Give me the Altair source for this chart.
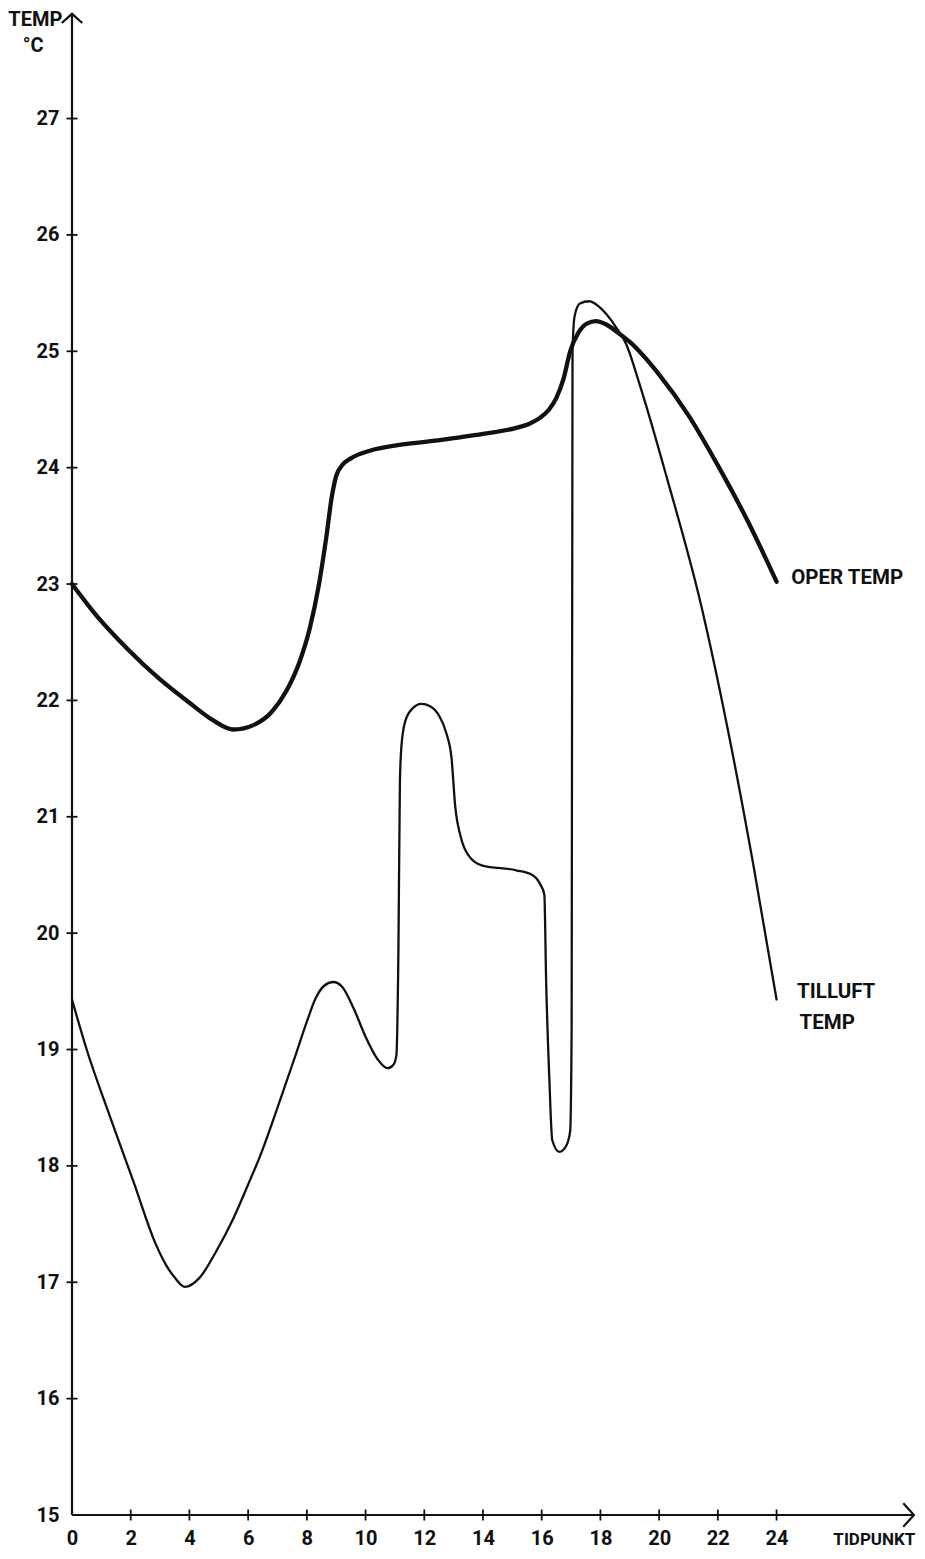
import altair as alt
import pandas as pd

# ---- data ----
oper_t = [0, 0.7, 1.9, 3.0, 4.0, 4.8, 5.5, 6.2, 6.8, 7.3, 7.75, 8.1, 8.4, 8.65,
          8.85, 9.0, 9.2, 9.5, 10.2, 11.0, 12.3, 14.0, 15.1, 15.6, 15.95, 16.25,
          16.5, 16.75, 16.97, 17.25, 17.55, 17.85, 18.2, 18.6, 19.0, 20.0, 21.0,
          22.0, 23.0, 24.0]
oper_v = [23.0, 22.77, 22.44, 22.18, 21.98, 21.83, 21.75, 21.79, 21.9, 22.08, 22.33,
          22.62, 22.98, 23.38, 23.75, 23.93, 24.02, 24.08, 24.15, 24.19, 24.23, 24.29,
          24.34, 24.38, 24.43, 24.5, 24.6, 24.77, 25.0, 25.16, 25.24, 25.26, 25.23,
          25.16, 25.08, 24.8, 24.45, 24.02, 23.55, 23.02]

till_t = [0, 0.5, 1.3, 2.1, 2.85, 3.2, 3.5, 3.84, 4.35, 4.9, 5.48, 6.0, 6.4, 7.0,
          7.6, 8.0, 8.3, 8.6, 8.9, 9.2, 9.6, 10.0, 10.4, 10.75, 10.95, 11.05, 11.12,
          11.17, 11.22, 11.35, 11.6, 11.9, 12.2, 12.5, 12.75, 12.93, 13.05, 13.25,
          13.5, 13.98, 15.13, 15.68, 15.95, 16.09, 16.15, 16.26, 16.36, 16.6, 16.85,
          16.97, 17.02, 17.05, 17.12, 17.3, 17.62, 17.97, 18.2, 18.55, 18.88, 19.33,
          20.3, 21.4, 22.3, 23.2, 24.0]
till_v = [19.43, 19.0, 18.42, 17.86, 17.33, 17.15, 17.04, 16.96, 17.04, 17.26, 17.54,
          17.84, 18.08, 18.5, 18.94, 19.24, 19.44, 19.55, 19.58, 19.54, 19.35, 19.11,
          18.92, 18.84, 18.87, 18.95, 19.88, 21.3, 21.6, 21.82, 21.93, 21.97, 21.95,
          21.87, 21.72, 21.5, 21.1, 20.82, 20.67, 20.58, 20.54, 20.5, 20.42, 20.33,
          19.6, 18.75, 18.22, 18.12, 18.18, 18.3, 19.2, 25.0, 25.3, 25.41, 25.43,
          25.38, 25.32, 25.2, 25.06, 24.72, 23.88, 22.85, 21.8, 20.6, 19.43]

y_label_values = list(range(15, 28))
x_label_values = list(range(0, 25, 2))
y_tick_values = list(range(16, 28))
x_tick_values = list(range(2, 25, 2))

X_MAX, Y_MIN, Y_MAX = 28.75, 15, 27.95
X_ARROW, Y_ARROW = 28.68, 27.9

FONT = "Roboto"
INK = "#111111"
FW = "bold"

xs = alt.Scale(domain=[0, X_MAX], nice=False, zero=False)
ys = alt.Scale(domain=[Y_MIN, Y_MAX], nice=False, zero=False)

ax_x = alt.Axis(values=x_label_values, domain=False, ticks=False, grid=False,
                title=None, labelPadding=13, labelFont=FONT, labelFontSize=20,
                labelFontWeight=FW, labelColor=INK, labelFlush=False,
                labelOverlap=False)
ax_y = alt.Axis(values=y_label_values, domain=False, ticks=False, grid=False,
                title=None, labelPadding=13, labelFont=FONT, labelFontSize=20,
                labelFontWeight=FW, labelColor=INK, labelFlush=False,
                labelOverlap=False)


def X(field):
    return alt.X(f"{field}:Q", scale=xs, axis=ax_x)


def Y(field):
    return alt.Y(f"{field}:Q", scale=ys, axis=ax_y)


oper_df = pd.DataFrame({"t": oper_t, "v": oper_v})
till_df = pd.DataFrame({"t": till_t, "v": till_v})

oper = alt.Chart(oper_df).mark_line(
    interpolate="monotone", strokeWidth=4.3, color=INK, strokeCap="round",
    strokeJoin="round"
).encode(x=X("t"), y=Y("v"))

till = alt.Chart(till_df).mark_line(
    interpolate="monotone", strokeWidth=2.3, color=INK, strokeCap="round",
    strokeJoin="round"
).encode(x=X("t"), y=Y("v"))

# axis lines
axes_df = pd.DataFrame({"x": [0, 0], "y": [Y_MIN, Y_MIN],
                        "x2": [0, X_ARROW], "y2": [Y_ARROW, Y_MIN]})
axes = alt.Chart(axes_df).mark_rule(strokeWidth=2.2, color=INK).encode(
    x=X("x"), y=Y("y"), x2="x2:Q", y2="y2:Q")

# crossing ticks
yt_df = pd.DataFrame({"x": [0] * len(y_tick_values), "y": y_tick_values})
yticks = alt.Chart(yt_df).mark_tick(orient="horizontal", size=11, thickness=1.8,
                                     color=INK, opacity=1).encode(x=X("x"), y=Y("y"))
xt_df = pd.DataFrame({"x": x_tick_values, "y": [Y_MIN] * len(x_tick_values)})
xticks = alt.Chart(xt_df).mark_tick(orient="vertical", size=11, thickness=1.8,
                                     color=INK, opacity=1).encode(x=X("x"), y=Y("y"))

# arrow heads
up_df = pd.DataFrame({"x": [0], "y": [Y_ARROW]})
up = alt.Chart(up_df).mark_point(shape="M-1,0.9L0,0L1,0.9", size=420, filled=False,
                                 strokeWidth=2.2, color=INK, opacity=1).encode(
    x=X("x"), y=Y("y"))
right_df = pd.DataFrame({"x": [X_ARROW], "y": [Y_MIN]})
right = alt.Chart(right_df).mark_point(shape="M-0.9,-1L0,0L-0.9,1", size=560,
                                       filled=False, strokeWidth=2.2, color=INK,
                                       opacity=1).encode(x=X("x"), y=Y("y"))

# texts
center_labels = ["TEMP", "°C"]
center_x = [-1.25, -1.32]
center_y = [27.85, 27.62]
left_labels = ["OPER TEMP", "TILLUFT", "TEMP"]
left_x = [24.5, 24.7, 24.78]
left_y = [23.05, 19.49, 19.23]

texts_c = alt.Chart(pd.DataFrame({"label": center_labels, "x": center_x, "y": center_y})).mark_text(
    font=FONT, fontSize=20, fontWeight=FW, color=INK, align="center", baseline="middle"
).encode(x=X("x"), y=Y("y"), text="label:N")
texts_l = alt.Chart(pd.DataFrame({"label": left_labels, "x": left_x, "y": left_y})).mark_text(
    font=FONT, fontSize=20.5, fontWeight=FW, color=INK, align="left", baseline="middle"
).encode(x=X("x"), y=Y("y"), text="label:N")

tid_df = pd.DataFrame({"label": ["TIDPUNKT"], "x": [X_MAX - 0.02], "y": [Y_MIN]})
tid = alt.Chart(tid_df).mark_text(
    font=FONT, fontSize=17, fontWeight=FW, color=INK, align="right",
    baseline="middle", dy=25
).encode(x=X("x"), y=Y("y"), text="label:N")

chart = alt.layer(axes, yticks, xticks, up, right, till, oper, texts_c, texts_l, tid).properties(
    width=844, height=1507,
    padding={"left": 64, "top": 0, "right": 0, "bottom": 35},
    autosize=alt.AutoSizeParams(type="none"),
    background="white",
).configure_view(stroke=None)

chart.save("out.html", embed_options={"renderer": "svg", "actions": False})
